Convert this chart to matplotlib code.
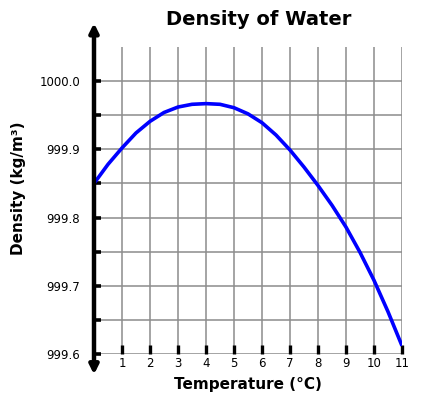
import numpy as np
import matplotlib.pyplot as plt

# Data (every half degree)
temperature = [0, 0.5, 1, 1.5, 2, 2.5, 3, 3.5, 4, 4.5, 5, 5.5,
               6, 6.5, 7, 7.5, 8, 8.5, 9, 9.5, 10, 10.5, 11]
density = [999.85, 999.878, 999.902, 999.924, 999.941, 999.954, 999.962, 999.966,
           999.967, 999.966, 999.961, 999.952, 999.939, 999.921, 999.899,
           999.874, 999.847, 999.818, 999.786, 999.749, 999.708, 999.662, 999.612]
x_ticks = [1, 2, 3, 4, 5, 6, 7, 8, 9, 10, 11]
y_ticks = [999.6, 999.65, 999.7, 999.75, 999.8, 999.85, 999.9, 999.95, 1000.0]
y_labels = ['999.6', '', '999.7', '', '999.8', '', '999.9', '', '1000.0']

fig = plt.figure(figsize=(4.21, 3.99), dpi=100)
ax = fig.add_axes([94 / 421, 45 / 399, 308 / 421, 307 / 399])

ax.set_xlim(0, 11)
ax.set_ylim(999.6, 1000.05)

# grid lines
for x in x_ticks:
    ax.plot([x, x], [999.6, 1000.05], color='#8c8c8c', lw=1.1, zorder=1)
for y in y_ticks:
    ax.plot([0, 11], [y, y], color='#8c8c8c', lw=1.1, zorder=1)

ax.plot(temperature, density, color='#0000ff', lw=2.6, zorder=3, solid_capstyle='butt')

for s in ax.spines.values():
    s.set_visible(False)

ax.set_xticks(x_ticks)
ax.set_xticklabels([str(v) for v in x_ticks])
ax.set_yticks(y_ticks)
ax.set_yticklabels(y_labels)
ax.tick_params(axis='x', direction='in', length=6.5, width=2.4, color='black',
               labelsize=8.5, pad=2)
ax.tick_params(axis='y', direction='in', length=5, width=2.6, color='black',
               labelsize=8.5, pad=10)

# y axis with arrows at both ends
ax.annotate('', xy=(0, 1000.085), xytext=(0, 999.57), xycoords='data',
            arrowprops=dict(arrowstyle='<|-|>', color='black', lw=3.2,
                            mutation_scale=13, shrinkA=0, shrinkB=0),
            annotation_clip=False, zorder=4)

fig.text(0.615, 0.95, 'Density of Water', ha='center', va='center',
         fontsize=14, fontweight='bold')
ax.set_xlabel('Temperature (°C)', fontsize=11, fontweight='bold', labelpad=5)
ax.set_ylabel('Density (kg/m³)', fontsize=11, fontweight='bold', labelpad=6)
ax.yaxis.set_label_coords(-0.22, 0.54)

fig.savefig('out.png', dpi=100)
